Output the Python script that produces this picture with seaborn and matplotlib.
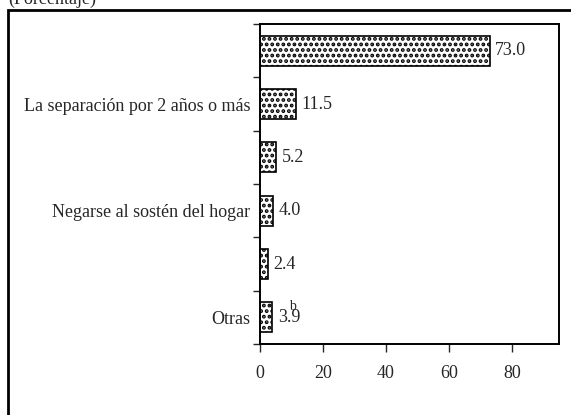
import pandas as pd
import matplotlib.pyplot as plt
import matplotlib.patches as mpatches
import seaborn as sns

# -------------------------------
# DATA
# -------------------------------
categories = ["c1", "c2", "c3", "c4", "c5", "c6"]
tick_labels = ["", "La separación por 2 años o más", "", "Negarse al sostén del hogar", "", "Otras"]
values = [73.0, 11.5, 5.2, 4.0, 2.4, 3.9]
value_labels = ["73.0", "11.5", "5.2", "4.0", "2.4", "3.9"]
x_ticks = [0, 20, 40, 60, 80]

df = pd.DataFrame({"cat": categories, "val": values})

# -------------------------------
# STYLE
# -------------------------------
sns.set_style("white")
plt.rcParams["font.family"] = ["Liberation Serif", "DejaVu Serif"]
plt.rcParams["hatch.linewidth"] = 1.9
plt.rcParams["hatch.color"] = "black"

fig = plt.figure(figsize=(5.71, 4.15), dpi=100)
ax = fig.add_axes([260 / 571, 1 - 344 / 415, 299 / 571, 320 / 415])

sns.barplot(data=df, x="val", y="cat", orient="h", color="white",
            edgecolor="black", linewidth=1.2, width=0.56, ax=ax)
for bar in ax.patches:
    bar.set_hatch("...")

# -------------------------------
# AXES
# -------------------------------
ax.set_xlim(0, 95)
ax.set_ylim(5.5, -0.5)
ax.set_xlabel("")
ax.set_ylabel("")
ax.set_xticks(x_ticks)
ax.set_xticklabels([str(t) for t in x_ticks], fontsize=13)
ax.set_yticks(range(len(categories)))
ax.set_yticklabels(tick_labels, fontsize=13)
ax.set_yticks([i - 0.5 for i in range(len(categories) + 1)], minor=True)
ax.tick_params(axis="y", which="major", length=0, pad=7)
ax.tick_params(axis="y", which="minor", length=5, width=1.0, direction="out", left=True)
ax.tick_params(axis="x", length=6, width=1.0, direction="out", bottom=True, pad=9)

for sp in ax.spines.values():
    sp.set_visible(True)
    sp.set_color("black")
    sp.set_linewidth(1.4)

# value labels
ax.bar_label(ax.containers[0], labels=value_labels, padding=4, fontsize=13)
ax.annotate("b", xy=(values[5], 5), xytext=(12, 3), textcoords="offset points",
            fontsize=10, va="bottom", ha="left")

# -------------------------------
# OUTER FRAME & TITLE
# -------------------------------
frame = mpatches.Rectangle((7.5 / 571, -0.1), 1.2, 1.1 - 10.5 / 415,
                           transform=fig.transFigure, fill=False,
                           edgecolor="black", linewidth=2.0, clip_on=False)
fig.patches.append(frame)
fig.text(8 / 571, 1 - 4 / 415, "(Porcentaje)", fontsize=13, ha="left", va="baseline")

plt.savefig("out.png", dpi=100)
